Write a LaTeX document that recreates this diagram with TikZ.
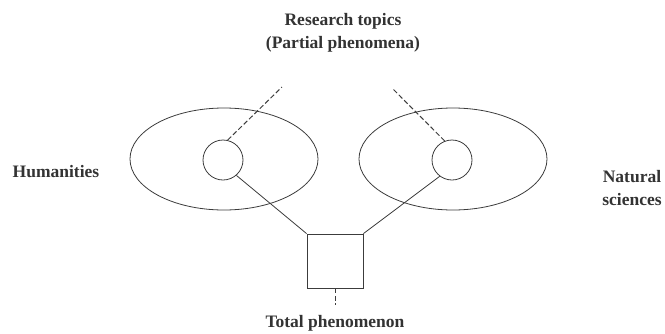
\documentclass[tikz,border=0pt]{standalone}
\usepackage{fontspec}
\setmainfont{Liberation Serif}
\usepackage{xcolor}
\definecolor{inkLine}{HTML}{3C3C3C}
\definecolor{inkText}{HTML}{333333}
\usetikzlibrary{shapes.geometric, positioning, calc}
\tikzset{
    field/.style={ellipse, draw=inkLine, line width=0.8pt, minimum width=188pt, minimum height=102pt, inner sep=0pt},
    topic/.style={circle, draw=inkLine, line width=0.8pt, minimum size=40pt, inner sep=0pt},
    whole/.style={rectangle, draw=inkLine, line width=0.8pt, minimum width=56pt, minimum height=54pt, inner sep=0pt},
    label/.style={text=inkText, font=\bfseries\fontsize{17.5}{23}\selectfont, inner sep=0pt, align=center},
    link/.style={draw=inkLine, line width=0.8pt},
    dashlink/.style={draw=inkLine, line width=1pt, dash pattern=on 5pt off 2.5pt}
}

\begin{document}
\begin{tikzpicture}[x=1pt, y=-1pt]
    \useasboundingbox (0,0) rectangle (665,333);

    % --- the two fields, each with one research topic inside ---
    \node[field] (hum) at (224,159) {};
    \node[field] (nat) at (453,159) {};
    \node[topic] (humtopic) at (223,160) {};
    \node[topic] (nattopic) at (452,160) {};

    % --- total phenomenon (box) ---
    \node[whole] (total) at (335,261) {};

    % --- connectors ---
    \draw[link] (humtopic.-49) -- (total.north west);
    \draw[link] (nattopic.-127) -- (total.north east);
    \coordinate (humend) at (282,87);
    \coordinate (natend) at (392,88);
    \coordinate (totalend) at (335,305);
    \draw[dashlink] (humtopic.77) -- (humend);
    \draw[dashlink] (nattopic.111) -- (natend);
    \draw[dashlink] (total.south) -- (totalend);

    % --- labels ---
    \node[label] (research) at (343,33) {Research topics\\(Partial phenomena)};
    \node[label, anchor=base] (humlabel) at (56,177) {Humanities};
    \node[label] (natlabel) at (632,188) {Natural\\sciences};
    \node[label, anchor=base] (totallabel) at (335,327) {Total phenomenon};
\end{tikzpicture}
\end{document}
